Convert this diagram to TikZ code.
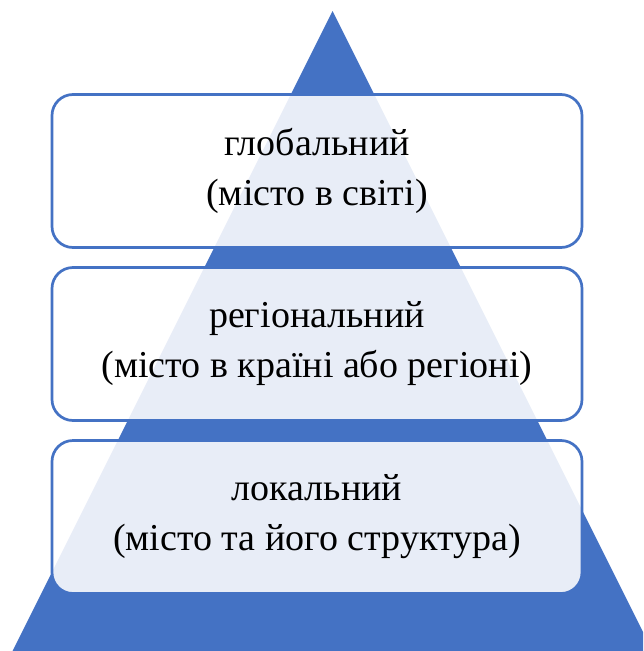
\documentclass[tikz,border=0pt]{standalone}
\usepackage{fontspec}
\setmainfont{Liberation Serif}
\usetikzlibrary{positioning}
\definecolor{pyrblue}{HTML}{4472C4}
\tikzset{
  level/.style={draw=pyrblue,line width=2.7pt,rounded corners=21pt,
    fill=white,fill opacity=0.88,text opacity=1,
    minimum width=530pt,minimum height=153pt,align=center,
    font=\fontsize{38}{50}\selectfont},
}
\begin{document}
\begin{tikzpicture}[x=1pt,y=-1pt,node distance=17.3pt]
  \useasboundingbox (0,0) rectangle (643,651);
  \clip (0,0) rectangle (643,651);
  \fill[pyrblue] (332.5,11)--(12.5,651)--(652.5,651)--cycle;
  \node[level] (global) at (317,171) {глобальний\\(місто в світі)};
  \node[level,below=of global] (regional) {регіональний\\(місто в країні або регіоні)};
  \node[level,below=of regional] (local) {локальний\\(місто та його структура)};
\end{tikzpicture}
\end{document}
